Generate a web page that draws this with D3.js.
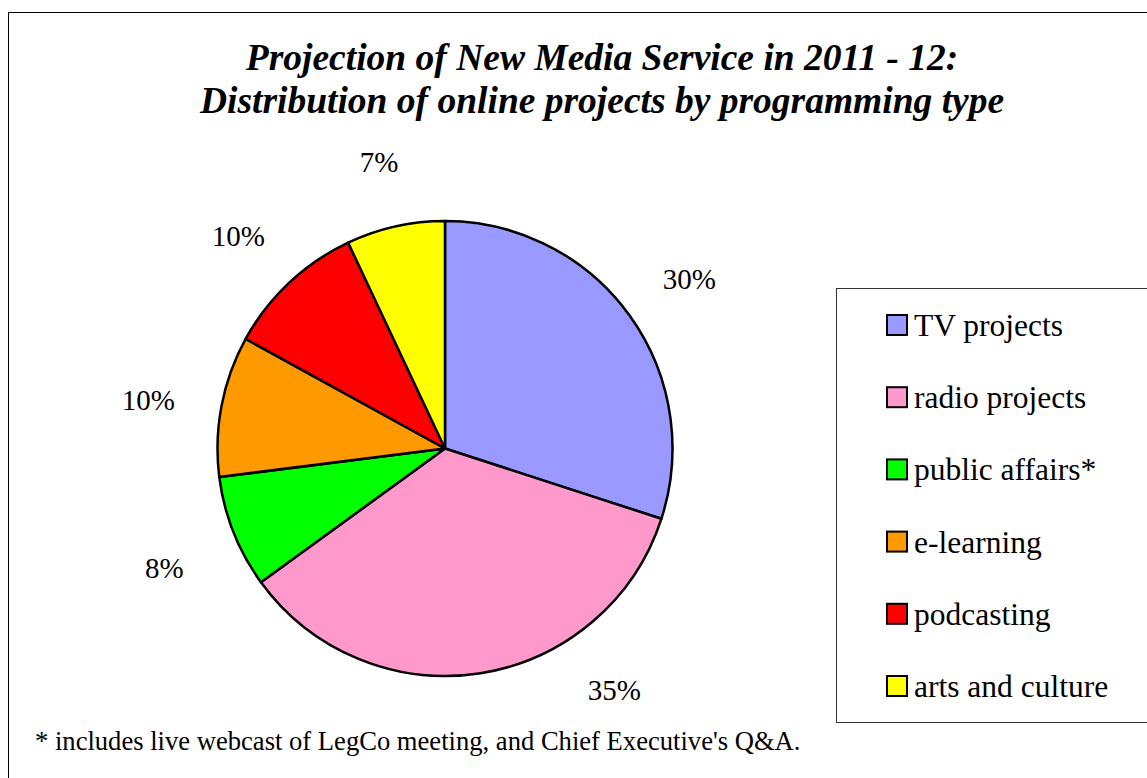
<!DOCTYPE html>
<html>
<head>
<meta charset="utf-8">
<script src="https://cdn.jsdelivr.net/npm/d3@7/dist/d3.min.js"></script>
<style>
  html, body { margin: 0; padding: 0; background: #fff; }
  svg { display: block; }
</style>
</head>
<body>
<svg id="chart" width="1147" height="778"></svg>
<script>
const categories = ["TV projects", "radio projects", "public affairs*", "e-learning", "podcasting", "arts and culture"];
const values = [30, 35, 8, 10, 10, 7];
const colors = ["#9999FF", "#FF99CC", "#00FF00", "#FF9900", "#FF0000", "#FFFF00"];
const titleLines = ["Projection of New Media Service in 2011 - 12:", "Distribution of online projects by programming type"];
const footnote = "* includes live webcast of LegCo meeting, and Chief Executive's Q&A.";

const FONT = "'Liberation Serif', 'Times New Roman', Times, 'DejaVu Serif', serif";
const svg = d3.select("#chart").attr("font-family", FONT);
const W = 1147, H = 778;

// outer chart frame
svg.append("rect")
  .attr("x", 8.5).attr("y", 12.5)
  .attr("width", W + 20).attr("height", H + 20)
  .attr("fill", "#fff").attr("stroke", "#000").attr("stroke-width", 1);

// title
const title = svg.append("text")
  .attr("font-family", FONT)
  .attr("text-anchor", "middle")
  .attr("font-size", 37.5).attr("font-weight", "bold").attr("font-style", "italic");
titleLines.forEach((t, i) => {
  title.append("tspan").attr("x", 602).attr("y", 70 + i * 43).text(t);
});

// pie
const cx = 445, cy = 448.5, r = 227.5;
const pie = d3.pie().sort(null).value(d => d)
  .startAngle(0).endAngle(2 * Math.PI);
const arcs = pie(values);
const arc = d3.arc().innerRadius(0).outerRadius(r);
const g = svg.append("g").attr("transform", `translate(${cx},${cy})`);
g.selectAll("path.slice").data(arcs).join("path")
  .attr("class", "slice")
  .attr("d", arc)
  .attr("fill", (d, i) => colors[i])
  .attr("stroke", "#000").attr("stroke-width", 2.5)
  .attr("stroke-linejoin", "round");

// labels
const total = d3.sum(values);
const fmt = v => Math.round(v / total * 100) + "%";
const labelR = 302;
const labelShift = 8;
const maxLabelY = 690 - cy;
g.selectAll("text.lbl").data(arcs).join("text")
  .attr("class", "lbl")
  .attr("font-family", FONT)
  .attr("text-anchor", "middle")
  .attr("dominant-baseline", "central")
  .attr("font-size", 29)
  .each(function(d) {
    const a = (d.startAngle + d.endAngle) / 2;
    let x = labelR * Math.sin(a), y = -labelR * Math.cos(a) + labelShift;
    if (y > maxLabelY) {
      y = maxLabelY;
      x = Math.sign(x || 1) * Math.sqrt(labelR * labelR - y * y) - 12;
    }
    d3.select(this).attr("x", x).attr("y", y);
  })
  .text(d => fmt(d.value));

// legend
const lg = svg.append("g");
lg.append("rect")
  .attr("x", 836.5).attr("y", 288.5)
  .attr("width", 330).attr("height", 434)
  .attr("fill", "#fff").attr("stroke", "#333").attr("stroke-width", 1);
const rowY = d3.scalePoint().domain(categories).range([315, 676]);
const items = lg.selectAll("g.item").data(categories).join("g").attr("class", "item");
items.append("rect")
  .attr("x", 887).attr("y", d => rowY(d))
  .attr("width", 20).attr("height", 20)
  .attr("fill", (d, i) => colors[i])
  .attr("stroke", "#000").attr("stroke-width", 2);
items.append("text")
  .attr("font-family", FONT)
  .attr("x", 914).attr("y", d => rowY(d) + 21)
  .attr("font-size", 31.5)
  .text(d => d);

// footnote
svg.append("text")
  .attr("font-family", FONT)
  .attr("x", 35).attr("y", 750)
  .attr("font-size", 26.6)
  .text(footnote);
</script>
</body>
</html>
